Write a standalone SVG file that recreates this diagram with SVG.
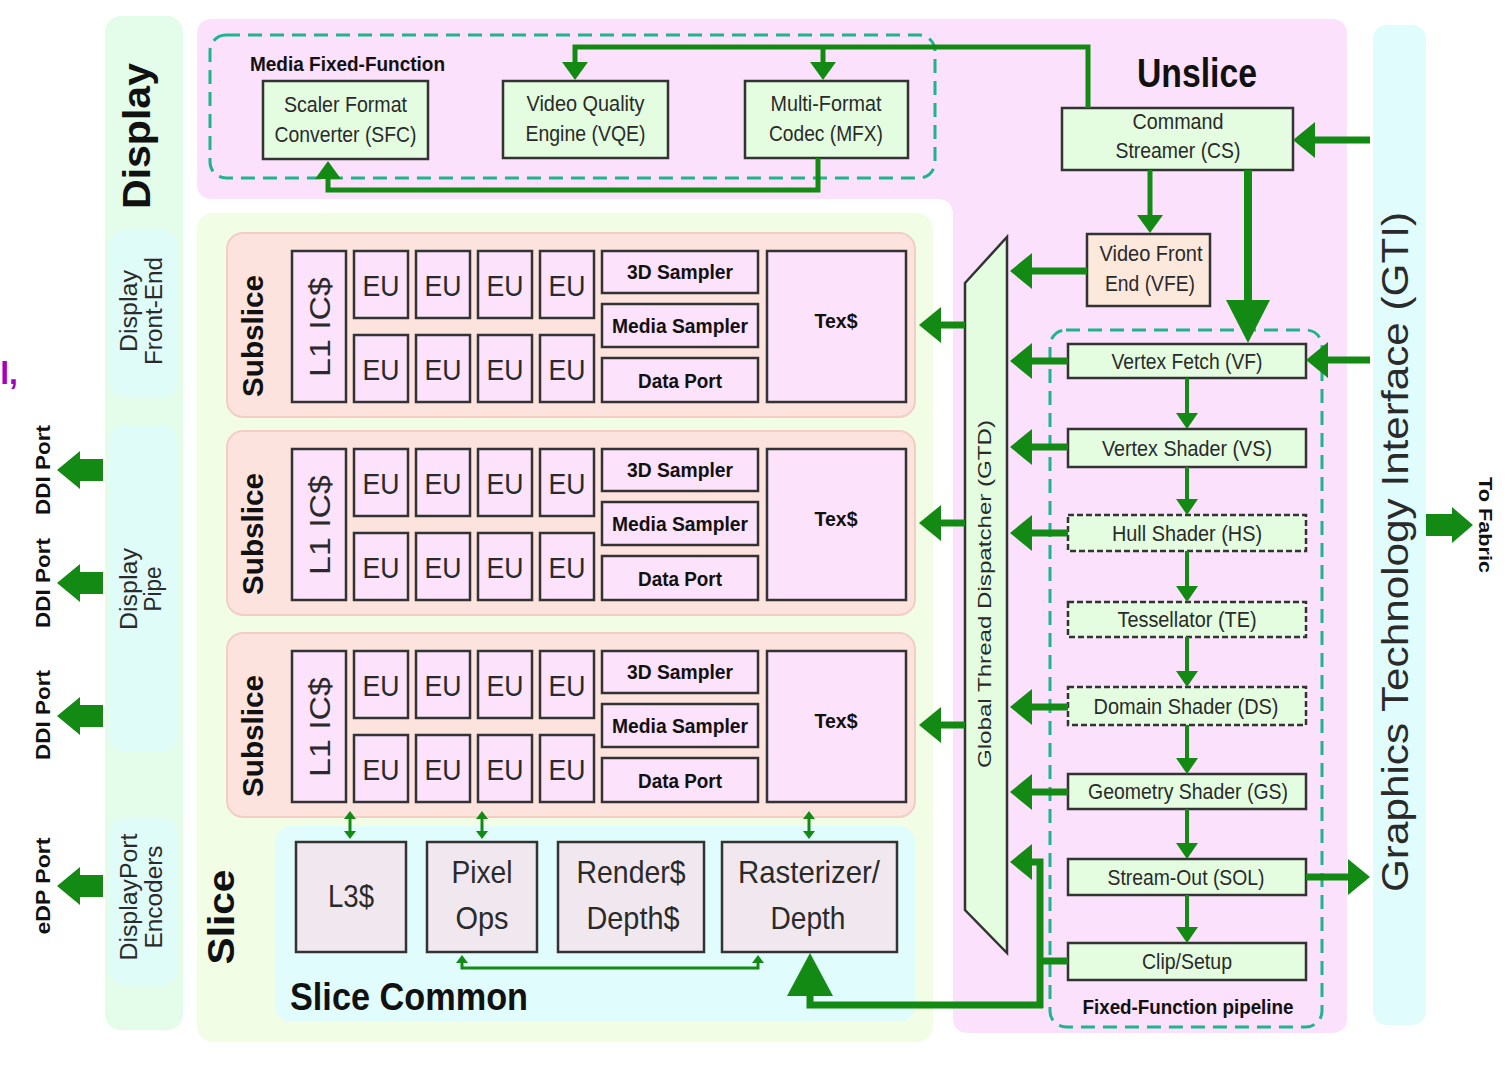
<svg xmlns="http://www.w3.org/2000/svg" width="1509" height="1078" viewBox="0 0 1509 1078">
<style>
.t{font-family:"Liberation Sans",Arial,sans-serif;fill:#2a2a2a}
.b{font-weight:bold;fill:#111}
.m{text-anchor:middle}
.box{stroke:#333;stroke-width:2.5}
.g{fill:#e4fde0}
.pk{fill:#fde2fc}
.sc{fill:#f1e8ef}
.dsh{stroke-dasharray:6 3}
.grp{fill:none;stroke:#1fb48e;stroke-width:3;stroke-dasharray:14 8}
.c7{fill:none;stroke:#138a13;stroke-width:7}
.c5{fill:none;stroke:#138a13;stroke-width:5}
.c4{fill:none;stroke:#138a13;stroke-width:4}
.c3{fill:none;stroke:#138a13;stroke-width:3}
.hd{fill:#138a13}
.ss{fill:#fde3de;stroke:#f3cdc6;stroke-width:2}
</style>
<defs>
<marker id="ah" markerUnits="userSpaceOnUse" markerWidth="22" markerHeight="36" viewBox="0 0 22 36" refX="1" refY="18" orient="auto"><path d="M0,0 L22,18 L0,36 z" fill="#138a13"/></marker>
<marker id="am" markerUnits="userSpaceOnUse" markerWidth="18" markerHeight="26" viewBox="0 0 18 26" refX="1" refY="13" orient="auto"><path d="M0,0 L18,13 L0,26 z" fill="#138a13"/></marker>
<marker id="as" markerUnits="userSpaceOnUse" markerWidth="16" markerHeight="22" viewBox="0 0 16 22" refX="1" refY="11" orient="auto"><path d="M0,0 L16,11 L0,22 z" fill="#138a13"/></marker>
<marker id="at" markerUnits="userSpaceOnUse" markerWidth="8" markerHeight="12" viewBox="0 0 8 12" refX="1" refY="6" orient="auto-start-reverse"><path d="M0,0 L8,6 L0,12 z" fill="#138a13"/></marker>
</defs>
<rect width="1509" height="1078" fill="#ffffff"/>

<!-- stray purple text at left edge -->
<text class="t b" x="18" y="384" text-anchor="end" font-size="32" style="fill:#a300c2">l,</text>

<!-- Display -->
<g id="display">
<rect x="105" y="16" width="78" height="1014" rx="16" fill="#e4fcea"/>
<text class="t b m" transform="translate(150,136) rotate(-90)" font-size="38" textLength="146" lengthAdjust="spacingAndGlyphs">Display</text>
</g>
<g id="display-front-end">
<rect x="110" y="230" width="67" height="167" rx="14" fill="#e0fcf8"/>
<text class="t m" transform="translate(137,311) rotate(-90)" font-size="23" textLength="82" lengthAdjust="spacingAndGlyphs">Display</text>
<text class="t m" transform="translate(162,311) rotate(-90)" font-size="23" textLength="108" lengthAdjust="spacingAndGlyphs">Front-End</text>
</g>
<g id="display-pipe">
<rect x="110" y="426" width="67" height="325" rx="14" fill="#e0fcf8"/>
<text class="t m" transform="translate(137,589) rotate(-90)" font-size="23" textLength="82" lengthAdjust="spacingAndGlyphs">Display</text>
<text class="t m" transform="translate(161,589) rotate(-90)" font-size="23" textLength="45" lengthAdjust="spacingAndGlyphs">Pipe</text>
</g>
<g id="displayport-encoders">
<rect x="110" y="818" width="67" height="167" rx="14" fill="#e0fcf8"/>
<text class="t m" transform="translate(137,897) rotate(-90)" font-size="23" textLength="127" lengthAdjust="spacingAndGlyphs">DisplayPort</text>
<text class="t m" transform="translate(162,897) rotate(-90)" font-size="23" textLength="103" lengthAdjust="spacingAndGlyphs">Encoders</text>
</g>

<!-- Ports -->
<g id="ddi-port-1">
<polygon class="hd" points="103,459 80,459 80,451 57,470 80,489 80,481 103,481"/>
<text class="t b m" transform="translate(50,470) rotate(-90)" font-size="20" textLength="90" lengthAdjust="spacingAndGlyphs">DDI Port</text>
</g>
<g id="ddi-port-2">
<polygon class="hd" points="103,572 80,572 80,564 57,583 80,602 80,594 103,594"/>
<text class="t b m" transform="translate(50,583) rotate(-90)" font-size="20" textLength="90" lengthAdjust="spacingAndGlyphs">DDI Port</text>
</g>
<g id="ddi-port-3">
<polygon class="hd" points="103,705 80,705 80,697 57,716 80,735 80,727 103,727"/>
<text class="t b m" transform="translate(50,715) rotate(-90)" font-size="20" textLength="90" lengthAdjust="spacingAndGlyphs">DDI Port</text>
</g>
<g id="edp-port">
<polygon class="hd" points="103,875 80,875 80,867 57,886 80,905 80,897 103,897"/>
<text class="t b m" transform="translate(50,886) rotate(-90)" font-size="20" textLength="97" lengthAdjust="spacingAndGlyphs">eDP Port</text>
</g>

<!-- Unslice -->
<g id="unslice">
<path d="M213,19 H1331 Q1347,19 1347,35 V1017 Q1347,1033 1331,1033 H969 Q953,1033 953,1017 V215 Q953,199 937,199 H213 Q197,199 197,183 V35 Q197,19 213,19 Z" fill="#fbe1fb"/>
<text class="t b m" x="1197" y="87" font-size="40" textLength="120" lengthAdjust="spacingAndGlyphs">Unslice</text>
</g>

<!-- GTI -->
<g id="gti">
<rect x="1373" y="25" width="53" height="1000" rx="14" fill="#e0fcfc"/>
<text class="t m" transform="translate(1408,552) rotate(-90)" font-size="36" textLength="680" lengthAdjust="spacingAndGlyphs">Graphics Technology Interface (GTI)</text>
</g>
<g id="to-fabric">
<polygon class="hd" points="1426,514 1452,514 1452,507 1473,525 1452,543 1452,536 1426,536"/>
<text class="t b m" transform="translate(1479,525) rotate(90)" font-size="19" textLength="96" lengthAdjust="spacingAndGlyphs">To Fabric</text>
</g>

<!-- Media Fixed-Function -->
<g id="media-fixed-function">
<rect class="grp" x="210" y="35" width="725" height="143" rx="16"/>
<text class="t b" x="250" y="71" font-size="20" textLength="195" lengthAdjust="spacingAndGlyphs">Media Fixed-Function</text>
</g>
<g id="sfc">
<rect class="box g" x="263" y="81" width="165" height="78"/>
<text class="t m" x="345.5" y="112" font-size="22" textLength="123" lengthAdjust="spacingAndGlyphs">Scaler Format</text>
<text class="t m" x="345.5" y="142" font-size="22" textLength="142" lengthAdjust="spacingAndGlyphs">Converter (SFC)</text>
</g>
<g id="vqe">
<rect class="box g" x="503" y="81" width="165" height="77"/>
<text class="t m" x="585.5" y="111" font-size="22" textLength="118" lengthAdjust="spacingAndGlyphs">Video Quality</text>
<text class="t m" x="585.5" y="141" font-size="22" textLength="120" lengthAdjust="spacingAndGlyphs">Engine (VQE)</text>
</g>
<g id="mfx">
<rect class="box g" x="745" y="81" width="163" height="77"/>
<text class="t m" x="826" y="111" font-size="22" textLength="111" lengthAdjust="spacingAndGlyphs">Multi-Format</text>
<text class="t m" x="826" y="141" font-size="22" textLength="114" lengthAdjust="spacingAndGlyphs">Codec (MFX)</text>
</g>
<g id="cs">
<rect class="box g" x="1062" y="108" width="231" height="62"/>
<text class="t m" x="1178" y="129" font-size="22" textLength="91" lengthAdjust="spacingAndGlyphs">Command</text>
<text class="t m" x="1178" y="158" font-size="22" textLength="125" lengthAdjust="spacingAndGlyphs">Streamer (CS)</text>
</g>
<g id="vfe">
<rect class="box" x="1087" y="234" width="123" height="72" fill="#fde8dc"/>
<text class="t m" x="1151" y="261" font-size="22" textLength="103" lengthAdjust="spacingAndGlyphs">Video Front</text>
<text class="t m" x="1150" y="291" font-size="22" textLength="90" lengthAdjust="spacingAndGlyphs">End (VFE)</text>
</g>

<!-- GTD -->
<g id="gtd">
<polygon class="box g" points="965,283 1007,237 1007,953 965,910"/>
<text class="t m" transform="translate(991,594) rotate(-90)" font-size="19" textLength="348" lengthAdjust="spacingAndGlyphs">Global Thread Dispatcher (GTD)</text>
</g>

<!-- Fixed-function pipeline -->
<g id="fixed-function-pipeline">
<rect class="grp" x="1050" y="330" width="272" height="697" rx="16"/>
<text class="t b m" x="1188" y="1014" font-size="20" textLength="211" lengthAdjust="spacingAndGlyphs">Fixed-Function pipeline</text>
</g>
<g id="vf">
<rect class="box g" x="1068" y="344" width="238" height="34"/>
<text class="t m" x="1187" y="369" font-size="22" textLength="151" lengthAdjust="spacingAndGlyphs">Vertex Fetch (VF)</text>
</g>
<g id="vs">
<rect class="box g" x="1068" y="429" width="238" height="38"/>
<text class="t m" x="1187" y="456" font-size="22" textLength="170" lengthAdjust="spacingAndGlyphs">Vertex Shader (VS)</text>
</g>
<g id="hs">
<rect class="box g dsh" x="1068" y="515" width="238" height="36"/>
<text class="t m" x="1187" y="541" font-size="22" textLength="150" lengthAdjust="spacingAndGlyphs">Hull Shader (HS)</text>
</g>
<g id="te">
<rect class="box g dsh" x="1068" y="602" width="238" height="35"/>
<text class="t m" x="1187" y="627" font-size="22" textLength="139" lengthAdjust="spacingAndGlyphs">Tessellator (TE)</text>
</g>
<g id="ds">
<rect class="box g dsh" x="1068" y="687" width="238" height="38"/>
<text class="t m" x="1186" y="714" font-size="22" textLength="185" lengthAdjust="spacingAndGlyphs">Domain Shader (DS)</text>
</g>
<g id="gs">
<rect class="box g" x="1068" y="774" width="238" height="35"/>
<text class="t m" x="1188" y="799" font-size="22" textLength="200" lengthAdjust="spacingAndGlyphs">Geometry Shader (GS)</text>
</g>
<g id="sol">
<rect class="box g" x="1068" y="859" width="238" height="36"/>
<text class="t m" x="1186" y="885" font-size="22" textLength="157" lengthAdjust="spacingAndGlyphs">Stream-Out (SOL)</text>
</g>
<g id="clip-setup">
<rect class="box g" x="1068" y="943" width="238" height="37"/>
<text class="t m" x="1187" y="969" font-size="22" textLength="90" lengthAdjust="spacingAndGlyphs">Clip/Setup</text>
</g>

<!-- Slice -->
<g id="slice">
<rect x="197" y="213" width="736" height="829" rx="16" fill="#f1fde5"/>
<text class="t b m" transform="translate(234,917) rotate(-90)" font-size="36" textLength="95" lengthAdjust="spacingAndGlyphs">Slice</text>
</g>

<!-- Subslice 1 -->
<g id="subslice-1">
<rect class="ss" x="227" y="233" width="688" height="184" rx="16"/>
<text class="t b m" transform="translate(263,336) rotate(-90)" font-size="30" textLength="122" lengthAdjust="spacingAndGlyphs">Subslice</text>
<rect class="box pk" x="292" y="251" width="54" height="151"/>
<text class="t m" transform="translate(330,327) rotate(-90)" font-size="30" textLength="100" lengthAdjust="spacingAndGlyphs">L1 IC$</text>
<rect class="box pk" x="354" y="251" width="54" height="67"/><text class="t m" x="381" y="296" font-size="30" textLength="37" lengthAdjust="spacingAndGlyphs">EU</text>
<rect class="box pk" x="416" y="251" width="54" height="67"/><text class="t m" x="443" y="296" font-size="30" textLength="37" lengthAdjust="spacingAndGlyphs">EU</text>
<rect class="box pk" x="478" y="251" width="54" height="67"/><text class="t m" x="505" y="296" font-size="30" textLength="37" lengthAdjust="spacingAndGlyphs">EU</text>
<rect class="box pk" x="540" y="251" width="54" height="67"/><text class="t m" x="567" y="296" font-size="30" textLength="37" lengthAdjust="spacingAndGlyphs">EU</text>
<rect class="box pk" x="354" y="335" width="54" height="67"/><text class="t m" x="381" y="380" font-size="30" textLength="37" lengthAdjust="spacingAndGlyphs">EU</text>
<rect class="box pk" x="416" y="335" width="54" height="67"/><text class="t m" x="443" y="380" font-size="30" textLength="37" lengthAdjust="spacingAndGlyphs">EU</text>
<rect class="box pk" x="478" y="335" width="54" height="67"/><text class="t m" x="505" y="380" font-size="30" textLength="37" lengthAdjust="spacingAndGlyphs">EU</text>
<rect class="box pk" x="540" y="335" width="54" height="67"/><text class="t m" x="567" y="380" font-size="30" textLength="37" lengthAdjust="spacingAndGlyphs">EU</text>
<rect class="box pk" x="602" y="251" width="156" height="42"/><text class="t b m" x="680" y="279" font-size="20" textLength="106" lengthAdjust="spacingAndGlyphs">3D Sampler</text>
<rect class="box pk" x="602" y="304" width="156" height="43"/><text class="t b m" x="680" y="333" font-size="20" textLength="136" lengthAdjust="spacingAndGlyphs">Media Sampler</text>
<rect class="box pk" x="602" y="358" width="156" height="44"/><text class="t b m" x="680" y="388" font-size="20" textLength="84" lengthAdjust="spacingAndGlyphs">Data Port</text>
<rect class="box pk" x="767" y="251" width="139" height="151"/><text class="t b m" x="836" y="328" font-size="20" textLength="43" lengthAdjust="spacingAndGlyphs">Tex$</text>
</g>

<!-- Subslice 2 -->
<g id="subslice-2">
<rect class="ss" x="227" y="431" width="688" height="184" rx="16"/>
<text class="t b m" transform="translate(263,534) rotate(-90)" font-size="30" textLength="122" lengthAdjust="spacingAndGlyphs">Subslice</text>
<rect class="box pk" x="292" y="449" width="54" height="151"/>
<text class="t m" transform="translate(330,525) rotate(-90)" font-size="30" textLength="100" lengthAdjust="spacingAndGlyphs">L1 IC$</text>
<rect class="box pk" x="354" y="449" width="54" height="67"/><text class="t m" x="381" y="494" font-size="30" textLength="37" lengthAdjust="spacingAndGlyphs">EU</text>
<rect class="box pk" x="416" y="449" width="54" height="67"/><text class="t m" x="443" y="494" font-size="30" textLength="37" lengthAdjust="spacingAndGlyphs">EU</text>
<rect class="box pk" x="478" y="449" width="54" height="67"/><text class="t m" x="505" y="494" font-size="30" textLength="37" lengthAdjust="spacingAndGlyphs">EU</text>
<rect class="box pk" x="540" y="449" width="54" height="67"/><text class="t m" x="567" y="494" font-size="30" textLength="37" lengthAdjust="spacingAndGlyphs">EU</text>
<rect class="box pk" x="354" y="533" width="54" height="67"/><text class="t m" x="381" y="578" font-size="30" textLength="37" lengthAdjust="spacingAndGlyphs">EU</text>
<rect class="box pk" x="416" y="533" width="54" height="67"/><text class="t m" x="443" y="578" font-size="30" textLength="37" lengthAdjust="spacingAndGlyphs">EU</text>
<rect class="box pk" x="478" y="533" width="54" height="67"/><text class="t m" x="505" y="578" font-size="30" textLength="37" lengthAdjust="spacingAndGlyphs">EU</text>
<rect class="box pk" x="540" y="533" width="54" height="67"/><text class="t m" x="567" y="578" font-size="30" textLength="37" lengthAdjust="spacingAndGlyphs">EU</text>
<rect class="box pk" x="602" y="449" width="156" height="42"/><text class="t b m" x="680" y="477" font-size="20" textLength="106" lengthAdjust="spacingAndGlyphs">3D Sampler</text>
<rect class="box pk" x="602" y="502" width="156" height="43"/><text class="t b m" x="680" y="531" font-size="20" textLength="136" lengthAdjust="spacingAndGlyphs">Media Sampler</text>
<rect class="box pk" x="602" y="556" width="156" height="44"/><text class="t b m" x="680" y="586" font-size="20" textLength="84" lengthAdjust="spacingAndGlyphs">Data Port</text>
<rect class="box pk" x="767" y="449" width="139" height="151"/><text class="t b m" x="836" y="526" font-size="20" textLength="43" lengthAdjust="spacingAndGlyphs">Tex$</text>
</g>

<!-- Subslice 3 -->
<g id="subslice-3">
<rect class="ss" x="227" y="633" width="688" height="184" rx="16"/>
<text class="t b m" transform="translate(263,736) rotate(-90)" font-size="30" textLength="122" lengthAdjust="spacingAndGlyphs">Subslice</text>
<rect class="box pk" x="292" y="651" width="54" height="151"/>
<text class="t m" transform="translate(330,727) rotate(-90)" font-size="30" textLength="100" lengthAdjust="spacingAndGlyphs">L1 IC$</text>
<rect class="box pk" x="354" y="651" width="54" height="67"/><text class="t m" x="381" y="696" font-size="30" textLength="37" lengthAdjust="spacingAndGlyphs">EU</text>
<rect class="box pk" x="416" y="651" width="54" height="67"/><text class="t m" x="443" y="696" font-size="30" textLength="37" lengthAdjust="spacingAndGlyphs">EU</text>
<rect class="box pk" x="478" y="651" width="54" height="67"/><text class="t m" x="505" y="696" font-size="30" textLength="37" lengthAdjust="spacingAndGlyphs">EU</text>
<rect class="box pk" x="540" y="651" width="54" height="67"/><text class="t m" x="567" y="696" font-size="30" textLength="37" lengthAdjust="spacingAndGlyphs">EU</text>
<rect class="box pk" x="354" y="735" width="54" height="67"/><text class="t m" x="381" y="780" font-size="30" textLength="37" lengthAdjust="spacingAndGlyphs">EU</text>
<rect class="box pk" x="416" y="735" width="54" height="67"/><text class="t m" x="443" y="780" font-size="30" textLength="37" lengthAdjust="spacingAndGlyphs">EU</text>
<rect class="box pk" x="478" y="735" width="54" height="67"/><text class="t m" x="505" y="780" font-size="30" textLength="37" lengthAdjust="spacingAndGlyphs">EU</text>
<rect class="box pk" x="540" y="735" width="54" height="67"/><text class="t m" x="567" y="780" font-size="30" textLength="37" lengthAdjust="spacingAndGlyphs">EU</text>
<rect class="box pk" x="602" y="651" width="156" height="42"/><text class="t b m" x="680" y="679" font-size="20" textLength="106" lengthAdjust="spacingAndGlyphs">3D Sampler</text>
<rect class="box pk" x="602" y="704" width="156" height="43"/><text class="t b m" x="680" y="733" font-size="20" textLength="136" lengthAdjust="spacingAndGlyphs">Media Sampler</text>
<rect class="box pk" x="602" y="758" width="156" height="44"/><text class="t b m" x="680" y="788" font-size="20" textLength="84" lengthAdjust="spacingAndGlyphs">Data Port</text>
<rect class="box pk" x="767" y="651" width="139" height="151"/><text class="t b m" x="836" y="728" font-size="20" textLength="43" lengthAdjust="spacingAndGlyphs">Tex$</text>
</g>

<!-- Slice Common -->
<g id="slice-common">
<rect x="275" y="826" width="640" height="196" rx="16" fill="#e0fcfc"/>
<text class="t b" x="290" y="1010" font-size="38" textLength="238" lengthAdjust="spacingAndGlyphs">Slice Common</text>
</g>
<g id="l3">
<rect class="box sc" x="296" y="842" width="110" height="110"/>
<text class="t m" x="351" y="907" font-size="32" textLength="46" lengthAdjust="spacingAndGlyphs">L3$</text>
</g>
<g id="pixel-ops">
<rect class="box sc" x="427" y="842" width="110" height="110"/>
<text class="t m" x="482" y="883" font-size="32" textLength="61" lengthAdjust="spacingAndGlyphs">Pixel</text>
<text class="t m" x="482" y="929" font-size="32" textLength="53" lengthAdjust="spacingAndGlyphs">Ops</text>
</g>
<g id="render-depth-cache">
<rect class="box sc" x="558" y="842" width="146" height="110"/>
<text class="t m" x="631" y="883" font-size="32" textLength="109" lengthAdjust="spacingAndGlyphs">Render$</text>
<text class="t m" x="633" y="929" font-size="32" textLength="93" lengthAdjust="spacingAndGlyphs">Depth$</text>
</g>
<g id="rasterizer-depth">
<rect class="box sc" x="722" y="842" width="175" height="110"/>
<text class="t m" x="809" y="883" font-size="32" textLength="142" lengthAdjust="spacingAndGlyphs">Rasterizer/</text>
<text class="t m" x="808" y="929" font-size="32" textLength="75" lengthAdjust="spacingAndGlyphs">Depth</text>
</g>

<!-- Connectors -->
<g id="connectors">
<path class="c5" d="M1088,108 V47 H575 V63" marker-end="url(#am)"/>
<path class="c5" d="M823,47 V63" marker-end="url(#am)"/>
<path class="c5" d="M818,158 V190 H328 V178" marker-end="url(#am)"/>
<path class="c7" d="M1370,140 H1314" marker-end="url(#ah)"/>
<path class="c5" d="M1150,170 V216" marker-end="url(#am)"/>
<path class="c7" d="M1248,170 V302" style="stroke-width:8"/>
<polygon class="hd" points="1226,300 1270,300 1248,343"/>
<path class="c7" d="M1087,271 H1031" marker-end="url(#ah)"/>
<path class="c7" d="M1068,361 H1031" marker-end="url(#ah)"/>
<path class="c7" d="M1068,447 H1031" marker-end="url(#ah)"/>
<path class="c7" d="M1068,533 H1031" marker-end="url(#ah)"/>
<path class="c7" d="M1068,707 H1031" marker-end="url(#ah)"/>
<path class="c7" d="M1068,792 H1031" marker-end="url(#ah)"/>
<path class="c7" d="M1370,360 H1327" marker-end="url(#ah)"/>
<path class="c7" d="M1306,877 H1349" marker-end="url(#ah)"/>
<path class="c7" d="M965,325 H940" marker-end="url(#ah)"/>
<path class="c7" d="M965,523 H940" marker-end="url(#ah)"/>
<path class="c7" d="M965,725 H940" marker-end="url(#ah)"/>
<path class="c4" d="M1187,378 V414" marker-end="url(#as)"/>
<path class="c4" d="M1187,467 V500" marker-end="url(#as)"/>
<path class="c4" d="M1187,551 V587" marker-end="url(#as)"/>
<path class="c4" d="M1187,637 V672" marker-end="url(#as)"/>
<path class="c4" d="M1187,725 V759" marker-end="url(#as)"/>
<path class="c4" d="M1187,809 V844" marker-end="url(#as)"/>
<path class="c4" d="M1187,895 V928" marker-end="url(#as)"/>
<path class="c7" d="M1068,961 H1040"/>
<path class="c7" d="M1040,1008 V862 H1031" marker-end="url(#ah)"/>
<path class="c7" d="M1043,1005 H810 V993"/>
<polygon class="hd" points="787,996 833,996 810,953"/>
<path class="c3" d="M350,818 V832" marker-start="url(#at)" marker-end="url(#at)"/>
<path class="c3" d="M482,818 V832" marker-start="url(#at)" marker-end="url(#at)"/>
<path class="c3" d="M809,818 V832" marker-start="url(#at)" marker-end="url(#at)"/>
<path class="c3" d="M462,962 V968 H758 V962" marker-start="url(#at)" marker-end="url(#at)"/>
</g>
</svg>
